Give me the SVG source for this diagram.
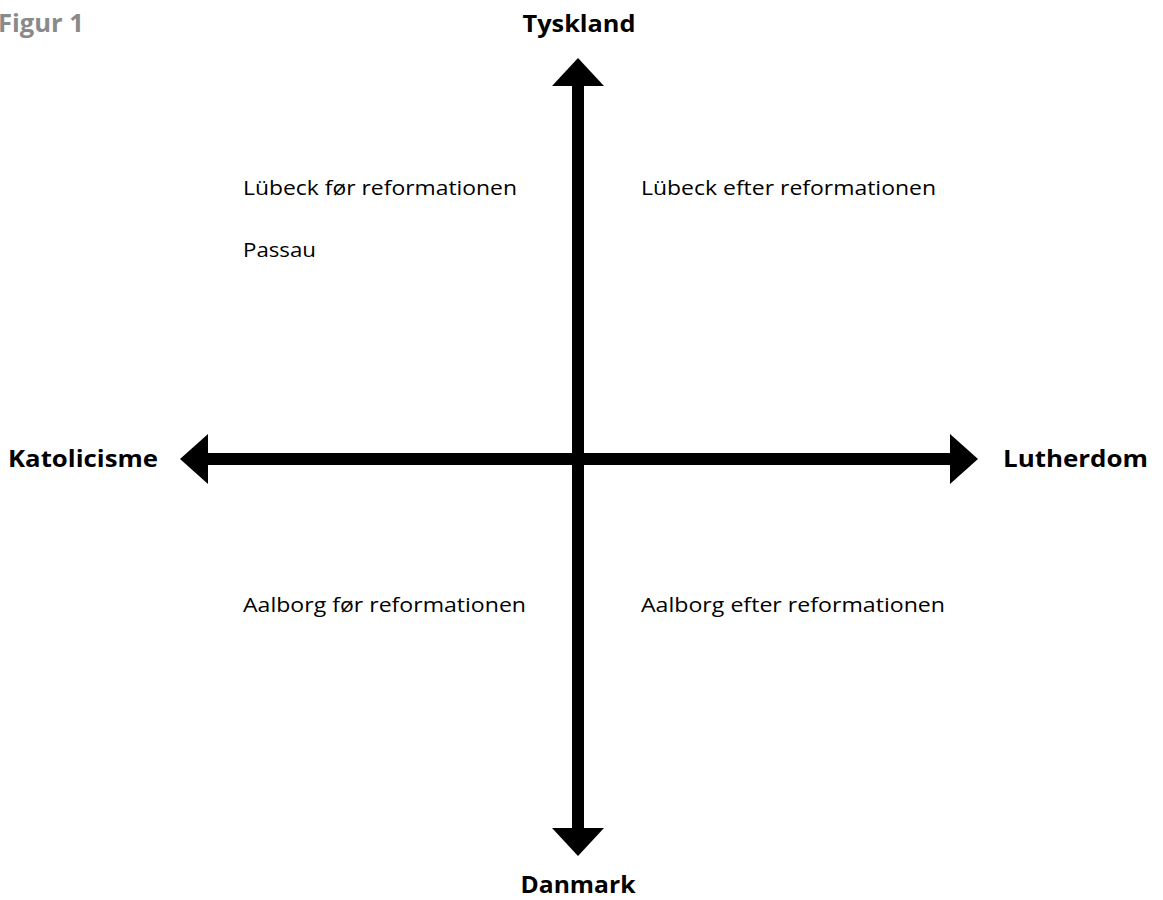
<svg xmlns="http://www.w3.org/2000/svg" width="1163" height="900" viewBox="0 0 1163 900">
<style>
.b{font-family:"Open Sans","Noto Sans",sans-serif;font-weight:bold;font-size:24px;fill:#000}
.r{font-family:"Open Sans","Noto Sans",sans-serif;font-size:20px;fill:#000}
.g{font-family:"Open Sans","Noto Sans",sans-serif;font-weight:bold;font-size:25px;fill:#8a8a8a}
</style>
<rect width="1163" height="900" fill="#fff"/>
<text class="g" x="-2" y="32" textLength="86" lengthAdjust="spacingAndGlyphs">Figur 1</text>
<g id="connectors" fill="#000">
<rect x="572" y="80" width="12" height="752"/>
<polygon points="578,58 604,86 552,86"/>
<polygon points="578,856 604,828 552,828"/>
<rect x="200" y="453" width="756" height="12"/>
<polygon points="180,459 208,434 208,484"/>
<polygon points="978,459 950,434 950,484"/>
</g>
<g id="tyskland"><text class="b" x="579" y="32" text-anchor="middle" textLength="113" lengthAdjust="spacingAndGlyphs">Tyskland</text></g>
<g id="danmark"><text class="b" x="578" y="893" text-anchor="middle" textLength="115" lengthAdjust="spacingAndGlyphs">Danmark</text></g>
<g id="katolicisme"><text class="b" x="8" y="467" textLength="150" lengthAdjust="spacingAndGlyphs">Katolicisme</text></g>
<g id="lutherdom"><text class="b" x="1003" y="467" textLength="145" lengthAdjust="spacingAndGlyphs">Lutherdom</text></g>
<g id="lubeck-for"><text class="r" x="243" y="195" textLength="274" lengthAdjust="spacingAndGlyphs">Lübeck før reformationen</text></g>
<g id="passau"><text class="r" x="243" y="257" textLength="73" lengthAdjust="spacingAndGlyphs">Passau</text></g>
<g id="lubeck-efter"><text class="r" x="641" y="195" textLength="295" lengthAdjust="spacingAndGlyphs">Lübeck efter reformationen</text></g>
<g id="aalborg-for"><text class="r" x="243" y="612" textLength="283" lengthAdjust="spacingAndGlyphs">Aalborg før reformationen</text></g>
<g id="aalborg-efter"><text class="r" x="641" y="612" textLength="304" lengthAdjust="spacingAndGlyphs">Aalborg efter reformationen</text></g>
</svg>
